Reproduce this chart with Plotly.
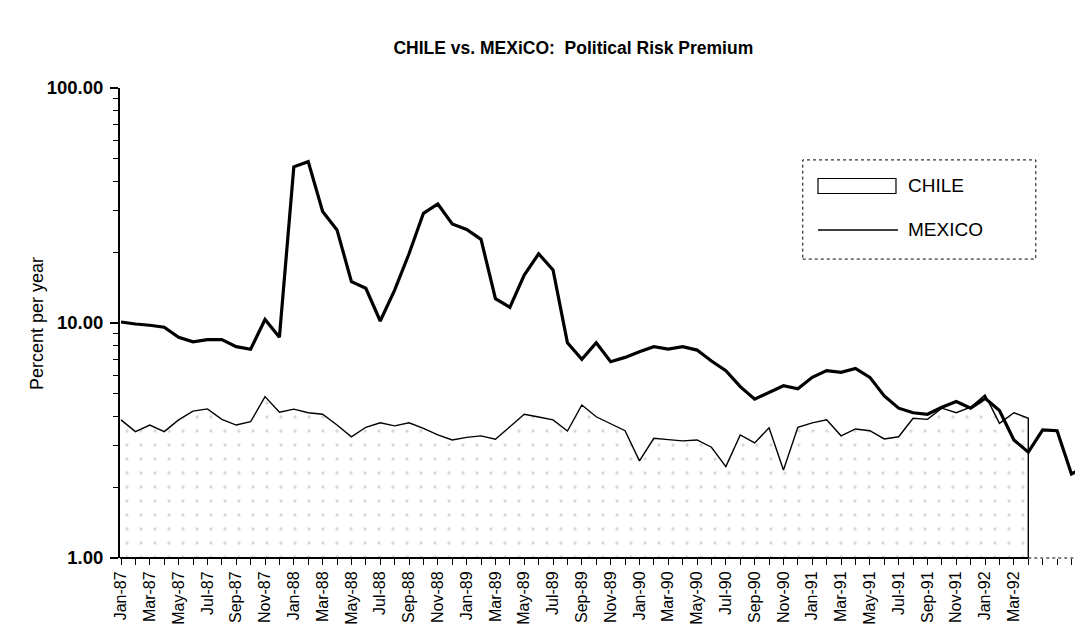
import plotly.graph_objects as go

# ---------------- data ----------------
MONTH_NAMES = ["Jan", "Feb", "Mar", "Apr", "May", "Jun",
               "Jul", "Aug", "Sep", "Oct", "Nov", "Dec"]
YEARS = ["87", "88", "89", "90", "91", "92"]
MONTHS = [f"{MONTH_NAMES[i % 12]}-{YEARS[i // 12]}" for i in range(68)]  # Jan-87 .. Aug-92

CHILE = [3.87, 3.45, 3.68, 3.45, 3.87, 4.22, 4.31, 3.89, 3.68, 3.80,
         4.86, 4.17, 4.30, 4.15, 4.09, 3.68, 3.28, 3.60, 3.76, 3.65,
         3.76, 3.56, 3.34, 3.18, 3.26, 3.31, 3.20, 3.62, 4.09, 3.98,
         3.87, 3.47, 4.48, 3.99, 3.74, 3.48, 2.59, 3.23, 3.19, 3.15,
         3.18, 2.96, 2.45, 3.34, 3.09, 3.58, 2.37, 3.60, 3.76, 3.87,
         3.31, 3.54, 3.48, 3.21, 3.28, 3.93, 3.89, 4.34, 4.15, 4.38,
         4.94, 3.74, 4.15, 3.93]

MEXICO = [10.1, 9.9, 9.78, 9.6, 8.7, 8.32, 8.5, 8.5, 7.93, 7.73,
          10.35, 8.7, 46.2, 48.6, 29.8, 24.9, 15.0, 14.05, 10.2, 13.8,
          19.7, 29.3, 32.1, 26.4, 25.0, 22.7, 12.7, 11.66, 16.0, 19.7,
          16.8, 8.24, 7.0, 8.24, 6.84, 7.14, 7.55, 7.93, 7.75, 7.93,
          7.67, 6.89, 6.27, 5.36, 4.74, 5.07, 5.41, 5.25, 5.87, 6.27,
          6.17, 6.41, 5.87, 4.89, 4.34, 4.15, 4.09, 4.38, 4.63, 4.34,
          4.78, 4.24, 3.18, 2.82, 3.51, 3.48, 2.28, 2.45]

SERIES_NAMES = ["CHILE", "MEXICO"]
Y_TICK_VALUES = [1, 10, 100]
Y_TICK_TEXT = ["1.00", "10.00", "100.00"]
Y_MINOR = [2, 3, 4, 5, 6, 7, 8, 9, 20, 30, 40, 50, 60, 70, 80, 90]
LAST_LABELED = 62  # Mar-92

FONT = "Liberation Sans, Arial, sans-serif"
NARROW = "Liberation Sans Narrow, Arial Narrow, Liberation Sans, sans-serif"

# ---------------- figure ----------------
x_chile = list(range(len(CHILE)))
x_mex = list(range(len(MEXICO)))
base = Y_TICK_VALUES[0]
X_MIN, X_MAX = -0.07, 66.8

fig = go.Figure()

# CHILE: stippled area down to the axis
fig.add_trace(go.Scatter(
    x=x_chile + [x_chile[-1], x_chile[0]],
    y=CHILE + [base, base],
    mode="lines",
    fill="toself",
    fillcolor="rgba(255,255,255,0)",
    fillpattern=dict(shape=".", fgcolor="#b4b4b4", bgcolor="white",
                     size=14, solidity=0.045),
    line=dict(color="black", width=1.4),
    name=SERIES_NAMES[0],
))

fig.add_trace(go.Scatter(
    x=x_mex, y=MEXICO,
    mode="lines",
    line=dict(color="black", width=3.2),
    name=SERIES_NAMES[1],
))

tickvals = list(range(len(MEXICO)))
ticktext = [m if (i % 2 == 0 and i <= LAST_LABELED) else "" for i, m in enumerate(MONTHS)]
last = x_chile[-1]

# legend (drawn by hand to reproduce the box symbol)
LEG_BOX = dict(x0=0.709, x1=0.951, y0=0.636, y1=0.847)
SYM_X0, SYM_X1 = 0.7248, 0.8058
TXT_X = 0.8162
ROW_Y = [0.7915, 0.698]

annotations = [
    dict(text=SERIES_NAMES[i], xref="paper", yref="paper", x=TXT_X, y=ROW_Y[i],
         xanchor="left", yanchor="middle", showarrow=False,
         font=dict(family=FONT, size=19, color="black"))
    for i in range(2)
]
annotations.append(dict(
    text="Percent per year", xref="paper", yref="paper", x=-0.0862, y=0.5,
    xanchor="center", yanchor="middle", textangle=-90, showarrow=False,
    font=dict(family=NARROW, size=18, color="black")))

fig.update_layout(
    width=1083, height=636,
    paper_bgcolor="white", plot_bgcolor="white",
    margin=dict(l=112, r=8, t=80, b=86),
    title=dict(text="<b>CHILE vs. MEXiCO:  Political Risk Premium</b>",
               x=0.522, xanchor="center", y=1 - 40 / 636, yanchor="middle",
               font=dict(family=FONT, size=17.5, color="black")),
    showlegend=False,
    xaxis=dict(
        range=[X_MIN, X_MAX], automargin=False,
        tickmode="array", tickvals=tickvals, ticktext=ticktext,
        tickangle=-90, ticks="outside", ticklen=6, tickwidth=1.2,
        tickcolor="black", showline=False, showgrid=False, zeroline=False,
        tickfont=dict(family=NARROW, size=16, color="black"),
    ),
    yaxis=dict(
        type="log", range=[0, 2], automargin=False,
        tickmode="array", tickvals=Y_TICK_VALUES, ticktext=Y_TICK_TEXT,
        ticks="outside", ticklen=8, tickwidth=1.5, tickcolor="black",
        ticklabelstandoff=3,
        showline=True, linecolor="black", linewidth=2,
        showgrid=False, zeroline=False,
        minor=dict(tickvals=Y_MINOR, ticks="outside", ticklen=5,
                   tickwidth=1.2, tickcolor="black", showgrid=False),
        tickfont=dict(family=FONT, size=18.5, color="black", weight="bold"),
    ),
    shapes=[
        dict(type="line", xref="x", yref="paper", x0=X_MIN, x1=last,
             y0=0, y1=0, line=dict(color="black", width=2)),
        dict(type="line", xref="x", yref="paper", x0=last, x1=X_MAX,
             y0=0, y1=0, line=dict(color="black", width=1, dash="dot")),
        dict(type="rect", xref="paper", yref="paper", **LEG_BOX,
             line=dict(color="black", width=1, dash="dot")),
        dict(type="rect", xref="paper", yref="paper",
             x0=SYM_X0, x1=SYM_X1, y0=ROW_Y[0] - 0.016, y1=ROW_Y[0] + 0.016,
             line=dict(color="black", width=1.2), fillcolor="white"),
        dict(type="line", xref="paper", yref="paper",
             x0=SYM_X0, x1=SYM_X1 + 0.002, y0=ROW_Y[1], y1=ROW_Y[1],
             line=dict(color="black", width=1.5)),
    ],
    annotations=annotations,
)

fig.write_html("out.html")
